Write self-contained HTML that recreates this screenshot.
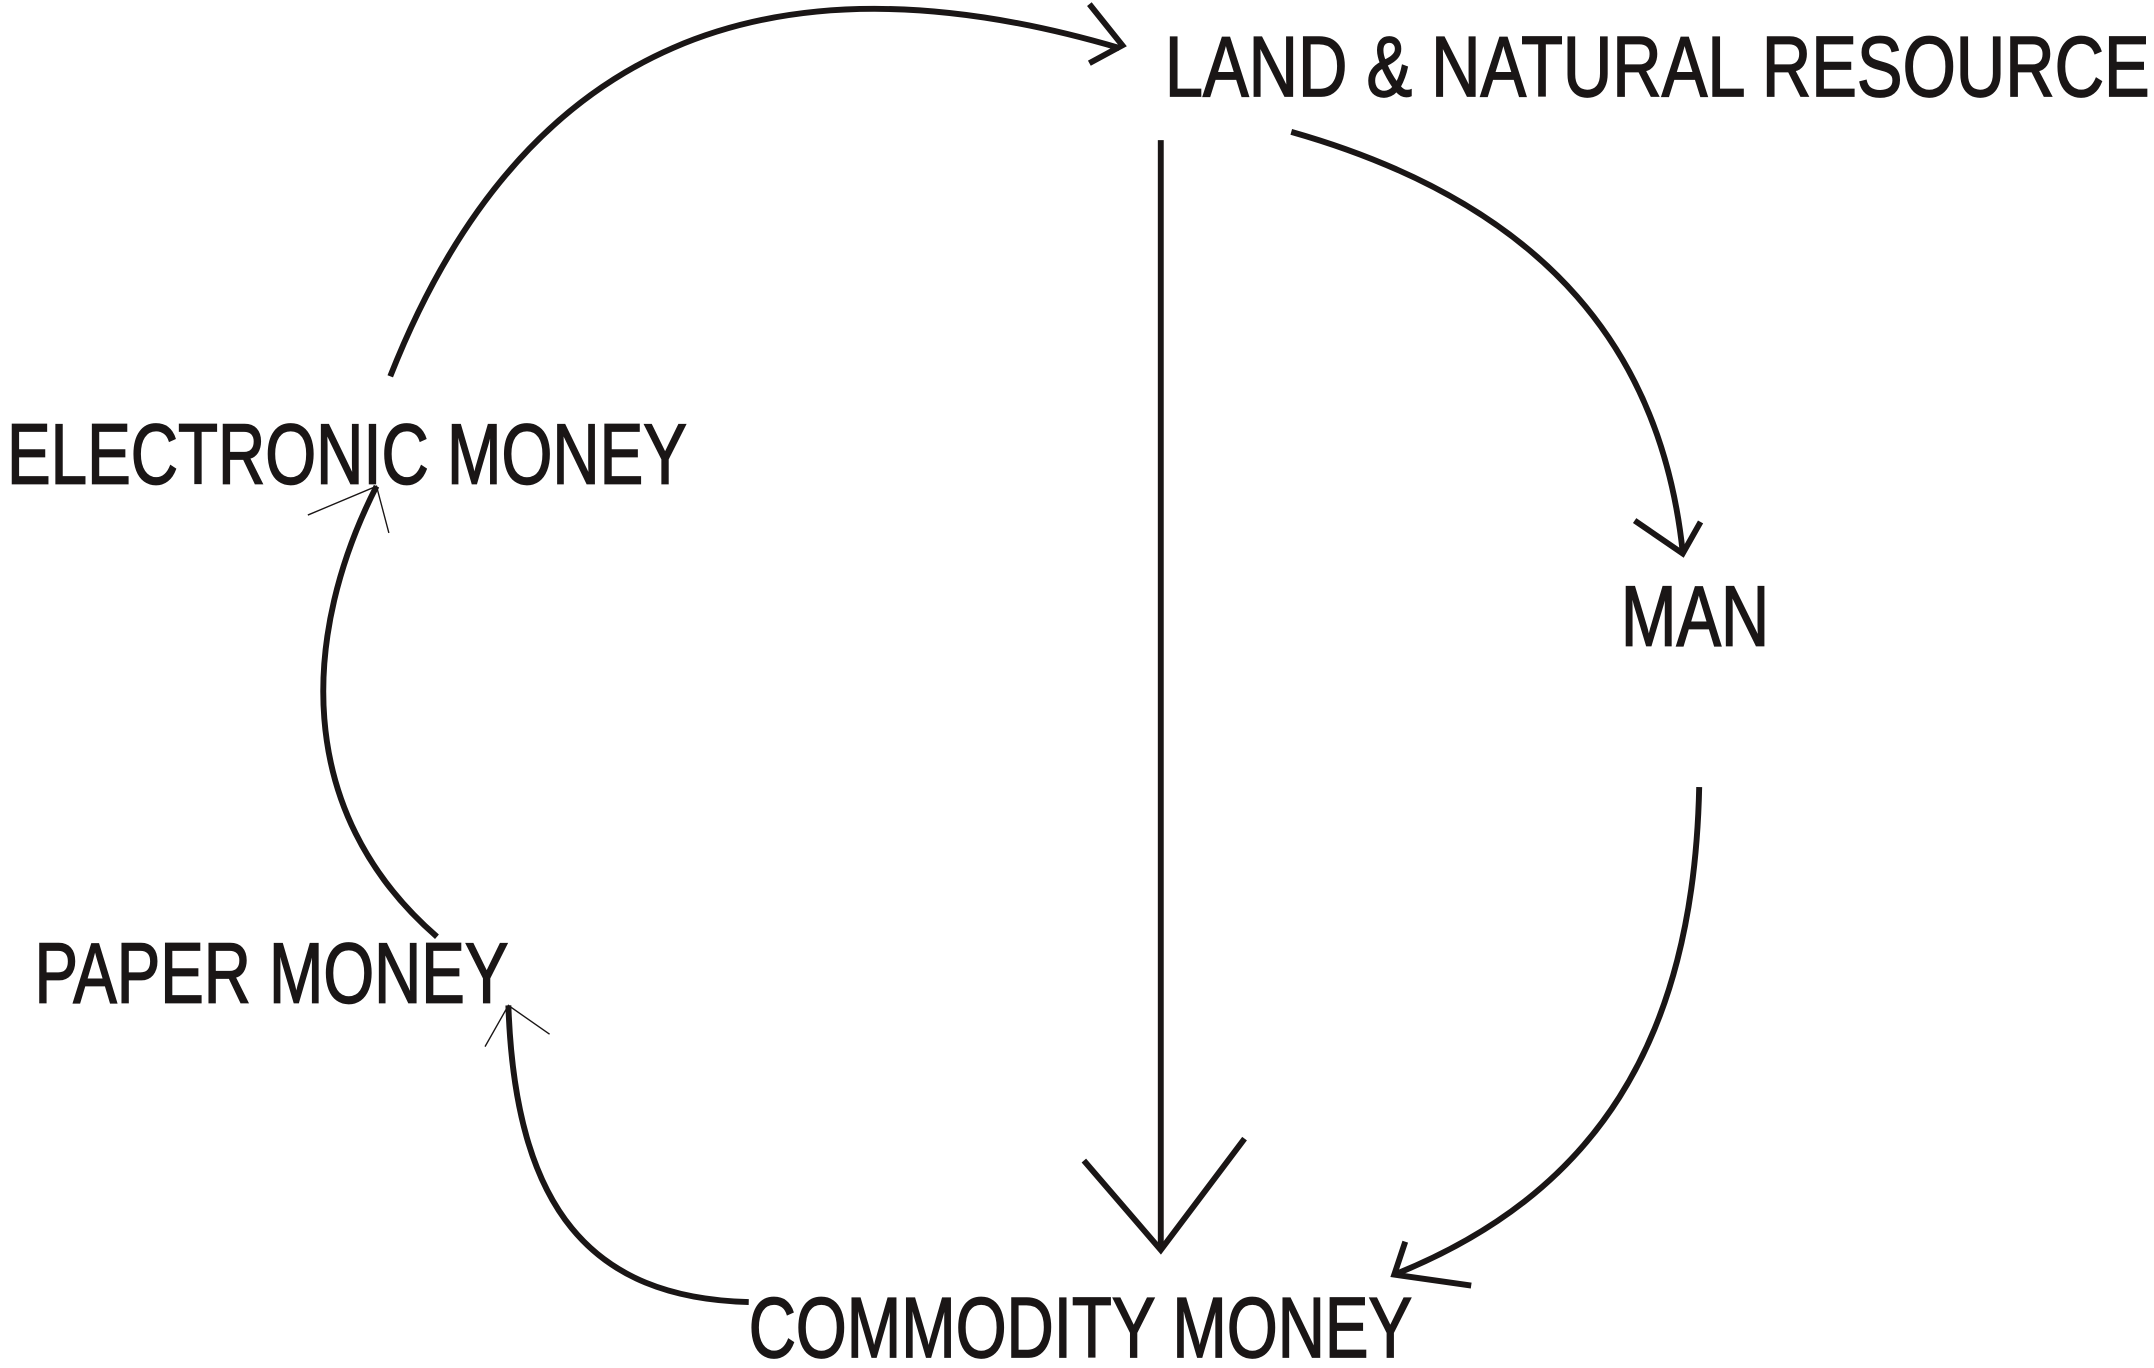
<!DOCTYPE html>
<html><head><meta charset="utf-8"><style>
html,body{margin:0;padding:0;background:#fff;}
svg{display:block;}
text{font-family:"Liberation Sans Narrow","Liberation Sans",sans-serif;fill:#1a1616;stroke:#1a1616;stroke-width:1.2;font-size:62px;}
</style></head><body>
<svg width="2154" height="1368" viewBox="0 0 1568 996" xmlns="http://www.w3.org/2000/svg">
<g fill="none" stroke="#1a1616" stroke-width="4.3" stroke-linecap="butt" stroke-linejoin="miter">
<path d="M284,274 C380,30 560,-40 815,35"/>
<polyline points="793,3 817,33 793,46"/>
<line x1="845" y1="102" x2="845" y2="910"/>
<polyline points="789,845 845,910 906,829"/>
<path d="M940,96 C1130,150 1210,260 1225,402"/>
<polyline points="1190,379 1225,403 1238,380"/>
<path d="M1237,573 C1233,760 1160,870 1015,928"/>
<polyline points="1023,904 1015,928 1071,936"/>
<path d="M545,948 C430,945 375,880 370,732"/>
<path d="M318,682 C212,590 220,460 274,354"/>
</g>
<g fill="none" stroke="#1a1616" stroke-width="1">
<polyline points="353,762 370,732 400,753"/>
<polyline points="224,375 274,354 283,388"/>
</g>
<text x="848" y="70" textLength="717" lengthAdjust="spacingAndGlyphs">LAND &amp; NATURAL RESOURCE</text>
<text x="5" y="352" textLength="495" lengthAdjust="spacingAndGlyphs">ELECTRONIC MONEY</text>
<text x="1180" y="470" textLength="108" lengthAdjust="spacingAndGlyphs">MAN</text>
<text x="25" y="730" textLength="345" lengthAdjust="spacingAndGlyphs">PAPER MONEY</text>
<text x="545" y="988" textLength="483" lengthAdjust="spacingAndGlyphs">COMMODITY MONEY</text>
</svg>
</body></html>
